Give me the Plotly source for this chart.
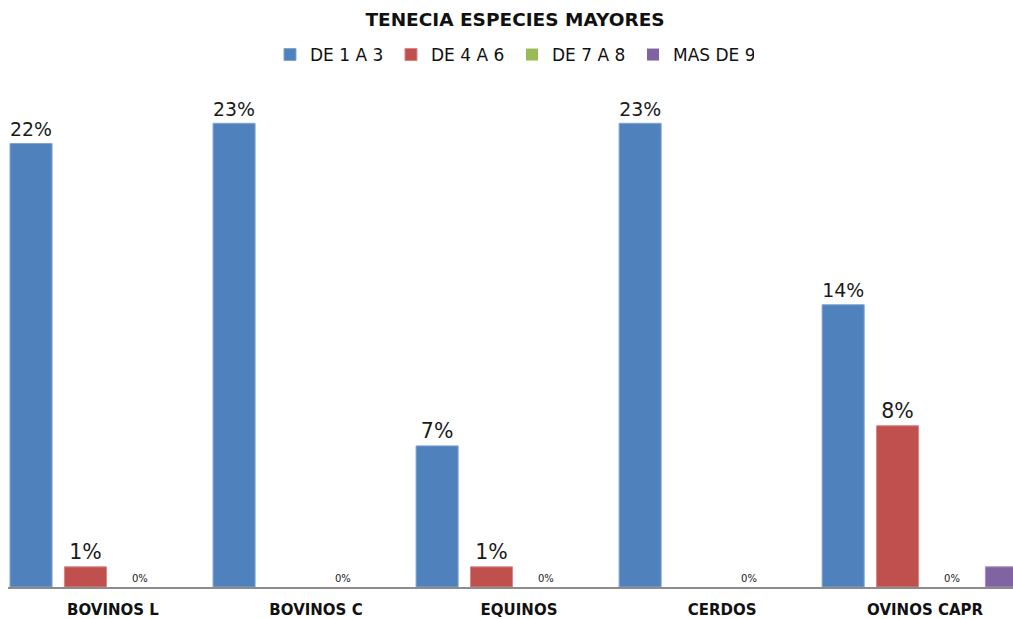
import plotly.graph_objects as go

# Categorías y porcentajes por rango de tenencia
categorias = ["BOVINOS L", "BOVINOS C", "EQUINOS", "CERDOS", "OVINOS CAPR"]
de_1_a_3 = [22, 23, 7, 23, 14]
de_4_a_6 = [1, None, 1, None, 8]
de_7_a_8 = [0, 0, 0, 0, 0]
mas_de_9 = [None, None, None, None, 1]

series = [
    ("DE 1 A 3", de_1_a_3, "#4F81BD", "#7FA3D1", -0.507, True),
    ("DE 4 A 6", de_4_a_6, "#C0504D", "#D98583", -0.239, True),
    ("DE 7 A 8", de_7_a_8, "#9BBB59", "#BCD38F", 0.029, True),
    ("MAS DE 9", mas_de_9, "#8064A2", "#A391BD", 0.297, False),
]

fig = go.Figure()
for nombre, valores, color, borde, desplaz, etiquetas in series:
    textos = [("" if v is None else f"{v}%") for v in valores]
    tamanos = [(10 if v == 0 else 20.5) for v in valores]
    fig.add_trace(go.Bar(
        name=nombre,
        x=categorias,
        y=valores,
        offset=desplaz,
        width=0.207,
        marker=dict(
            color=color,
            line=dict(color=borde, width=[(0 if not v else 1) for v in valores]),
        ),
        text=textos if etiquetas else None,
        textposition="outside" if etiquetas else "none",
        textfont=dict(family="DejaVu Sans", size=tamanos, color="#1a1a1a"),
        cliponaxis=False,
    ))

fig.update_layout(
    width=1013,
    height=619,
    margin=dict(l=8, r=0, t=83, b=29),
    paper_bgcolor="white",
    plot_bgcolor="white",
    barmode="group",
    showlegend=True,
    title=dict(
        text="<b>TENECIA ESPECIES MAYORES</b>",
        x=515 / 1013, xanchor="center",
        y=1 - 20 / 619, yanchor="middle",
        font=dict(family="DejaVu Sans", size=18.5, color="#111111"),
    ),
    legend=dict(
        orientation="h",
        x=508 / 1013, xanchor="center",
        y=1 - 55 / 619, yanchor="middle",
        yref="container",
        font=dict(family="DejaVu Sans", size=17, color="#111111"),
        entrywidth=76, entrywidthmode="pixels",
        itemwidth=30,
    ),
    xaxis=dict(
        type="category",
        range=[-0.517, 4.433],
        showline=True, linecolor="#8c8c8c", linewidth=2,
        ticks="", showgrid=False,
        ticklabelstandoff=8,
        tickfont=dict(family="DejaVu Sans", size=15, color="#111111"),
        tickprefix="<b>", ticksuffix="</b>",
    ),
    yaxis=dict(
        range=[0, 25],
        visible=False,
        showgrid=False,
        zeroline=False,
    ),
)

fig.write_html("out.html")
